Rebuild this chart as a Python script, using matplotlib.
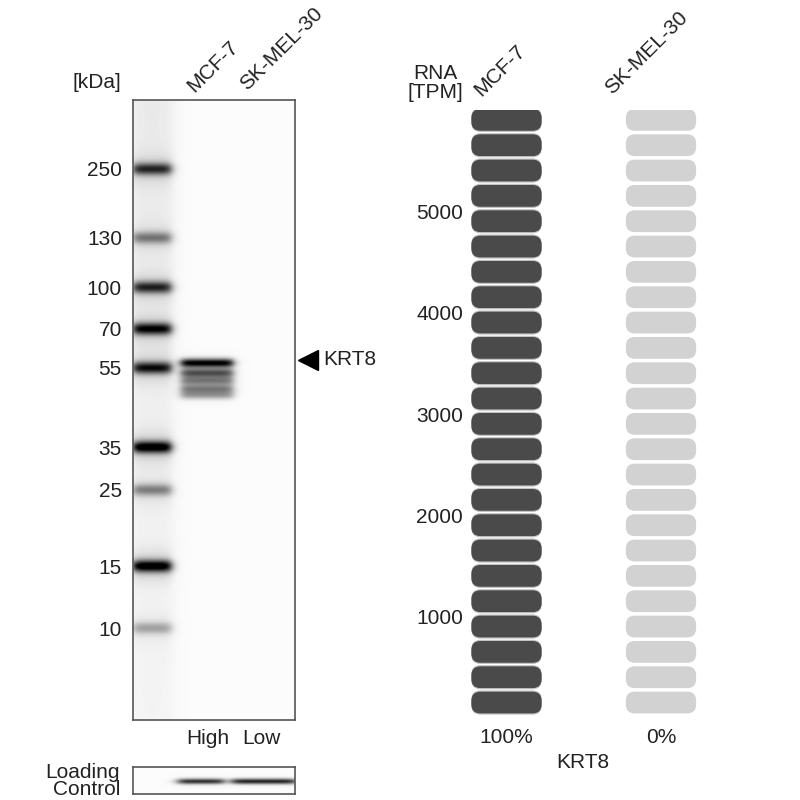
import numpy as np
import matplotlib
matplotlib.use("Agg")
import matplotlib.pyplot as plt
from matplotlib.patches import FancyBboxPatch

plt.rcParams['font.family'] = ['Liberation Sans', 'DejaVu Sans']
plt.rcParams['font.size'] = 15

# western blot data
ladder_kda = [250, 130, 100, 70, 55, 35, 25, 15, 10]
ladder_pos = [0.111, 0.222, 0.302, 0.369, 0.432, 0.560, 0.629, 0.752, 0.852]   # migration, 0 = top of gel
ladder_strength = [0.70, 0.42, 0.72, 0.85, 0.80, 0.95, 0.40, 0.95, 0.28]
lanes = ["MCF-7", "SK-MEL-30"]
lane_amounts = ["High", "Low"]
krt8_pos = [0.424, 0.440, 0.453, 0.466, 0.476]
krt8_strength = [0.95, 0.45, 0.30, 0.40, 0.35]
loading_strength = [0.80, 0.85]
target = "KRT8"

# RNA data
rna_cells = ["MCF-7", "SK-MEL-30"]
rna_tpm = [5980, 0]
rna_pct = ["100%", "0%"]
rna_ticks = [1000, 2000, 3000, 4000, 5000]
rna_max = 6000
n_pills = 24

fig = plt.figure(figsize=(8, 8), dpi=100)

def box(l, t, r, b):
    return [l / 800, 1 - b / 800, (r - l) / 800, (b - t) / 800]

def px(x, y):
    return x / 800, 1 - y / 800

# --- blot ---
W = 162
ax = fig.add_axes(box(133, 100, 295, 720))
xs = np.linspace(0, W, 324)
ys = np.linspace(0, 1, 1240)
X, Y = np.meshgrid(xs, ys)

def lane(xc, hw, soft=2.5):
    return 1 / (1 + np.exp((np.abs(X - xc) - hw) / soft))

img = np.full(X.shape, 0.015)
img += 0.07 * lane(19, 21, 4) * (1 - Y * 0.6)
for p, s in zip(ladder_pos, ladder_strength):
    img += s * lane(19, 19) * np.exp(-((Y - p) / 0.0095) ** 2)
    img += 0.15 * s * lane(19, 19) * np.exp(-((Y - p) / 0.025) ** 2)
for p, s in zip(krt8_pos, krt8_strength):
    img += s * lane(74, 26) * np.exp(-((Y - p) / 0.0068) ** 2)
img += 0.25 * lane(74, 26) * np.exp(-((Y - 0.445) / 0.02) ** 2)
img = np.clip(img, 0, 1)
ax.imshow(img, extent=(0, W, 1, 0), cmap='gray_r', vmin=0, vmax=1,
          aspect='auto', interpolation='bilinear')
ax.set_xlim(0, W)
ax.set_ylim(1, 0)
ax.set_xticks([])
ax.set_yticks(ladder_pos)
ax.set_yticklabels([str(k) for k in ladder_kda])
ax.tick_params(axis='y', length=0, pad=8, colors='#222222')
for sp in ax.spines.values():
    sp.set_color('#555555')
    sp.set_linewidth(1.2)

fig.text(*px(97, 82), "[kDa]", ha='center', va='center', color='#222222')
for name, (x, y) in zip(lanes, [(194, 93), (247, 91)]):
    fig.text(*px(x, y), name, rotation=45, rotation_mode='anchor',
             ha='left', va='baseline', color='#222222')

ax.plot([174.5], [krt8_pos[0] - 0.005], marker='<', ms=15, color='black', clip_on=False)
ax.text(190, krt8_pos[0] - 0.005, target, ha='left', va='center', color='#222222')

for name, x in zip(lane_amounts, [208, 261]):
    fig.text(*px(x, 739), name, ha='center', va='center', color='#222222')

# --- loading control ---
lc = fig.add_axes(box(133, 767, 295, 794))
ly = np.linspace(0, 1, 54)
LX, LY = np.meshgrid(xs, ly)
limg = np.full(LX.shape, 0.015)
for (xc, hw), s in zip([(68, 23), (131, 32)], loading_strength):
    limg += s * (1 / (1 + np.exp((np.abs(LX - xc) - hw) / 3))) * np.exp(-((LY - 0.55) / 0.10) ** 2)
lc.imshow(np.clip(limg, 0, 1), extent=(0, W, 1, 0), cmap='gray_r', vmin=0, vmax=1,
          aspect='auto', interpolation='bilinear')
lc.set_xticks([])
lc.set_yticks([])
for sp in lc.spines.values():
    sp.set_color('#555555')
    sp.set_linewidth(1.2)
fig.text(*px(120, 781), "Loading\nControl", ha='right', va='center',
         multialignment='right', linespacing=0.9, color='#222222')

# --- RNA pills ---
rx = fig.add_axes(box(465, 110, 705, 718))
rx.set_xlim(-0.2686, 1.2848)
rx.set_ylim(0, rna_max)
step = rna_max / n_pills
x_per_px = (1.2848 + 0.2686) / 240
y_per_px = rna_max / 608
asp = y_per_px / x_per_px
w = 0.455
for i, v in enumerate(rna_tpm):
    for k in range(n_pills):
        b = k * step + 45
        h = 215
        filled = b < v
        if filled:
            rx.add_patch(FancyBboxPatch((i - w / 2, b - 12), w, h + 24,
                                        boxstyle=f"round,pad=0,rounding_size={9 * x_per_px}",
                                        mutation_aspect=asp, fc='#c4c4c4', ec='none'))
        rx.add_patch(FancyBboxPatch((i - w / 2, b), w, h,
                                    boxstyle=f"round,pad=0,rounding_size={9 * x_per_px}",
                                    mutation_aspect=asp,
                                    fc='#4a4a4a' if filled else '#d2d2d2', ec='none'))
    rx.text(i, -190, rna_pct[i], ha='center', va='center', color='#222222')
rx.set_xticks([])
rx.set_yticks(rna_ticks)
rx.set_yticklabels([str(t) for t in rna_ticks])
rx.tick_params(axis='y', length=0, pad=1.5, colors='#222222')
for sp in rx.spines.values():
    sp.set_visible(False)
rx.patch.set_visible(False)

fig.text(*px(435, 83), "RNA\n[TPM]", ha='center', va='center', linespacing=1.0, color='#222222')
for name, (x, y) in zip(rna_cells, [(481, 97), (612, 95)]):
    fig.text(*px(x, y), name, rotation=45, rotation_mode='anchor',
             ha='left', va='baseline', color='#222222')
fig.text(*px(583, 762), target, ha='center', va='center', color='#222222')

fig.savefig("out.png", dpi=100)
